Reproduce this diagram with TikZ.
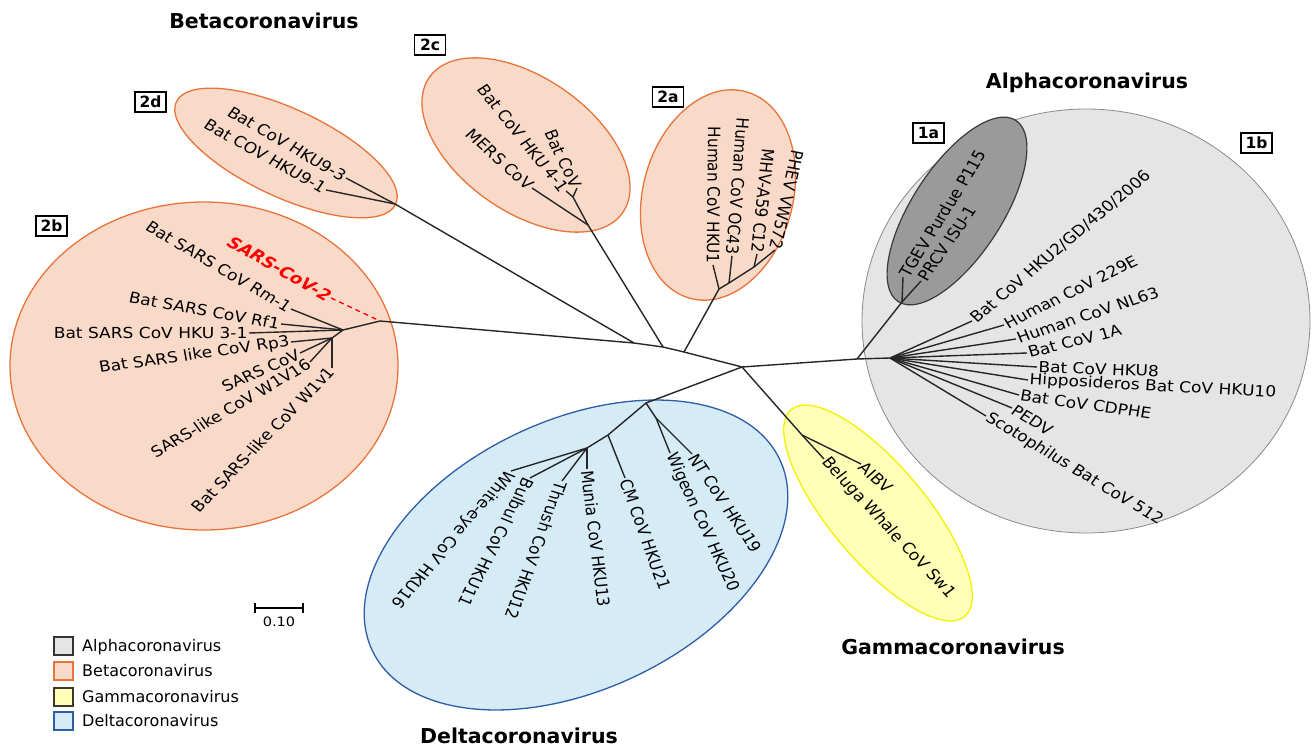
\documentclass[tikz,border=0pt]{standalone}
\usepackage{fontspec}
\setmainfont{DejaVu Sans}
\definecolor{betaF}{HTML}{F9D9C8}
\definecolor{betaD}{HTML}{E8743B}
\definecolor{alphaF}{HTML}{E5E5E5}
\definecolor{alphaD}{HTML}{8A8A8A}
\definecolor{oneaF}{HTML}{9A9A9A}
\definecolor{oneaD}{HTML}{3A3A3A}
\definecolor{gamF}{HTML}{FFFFB8}
\definecolor{gamD}{HTML}{F2F200}
\definecolor{delF}{HTML}{D5EBF6}
\definecolor{delD}{HTML}{2E5DA8}
\definecolor{covred}{HTML}{FF0000}
\begin{document}
\begin{tikzpicture}[x=1pt,y=-1pt,
  lab/.style={font=\fontsize{15.2}{17}\selectfont, inner sep=1.2pt, xscale=1.12},
  br/.style={line width=1.4pt, draw=black!85},
  tag/.style={draw=black, line width=1.4pt, fill=white, font=\bfseries\fontsize{15.5}{17}\selectfont, minimum width=31pt, minimum height=20pt, inner sep=0pt},
  ttl/.style={font=\bfseries\fontsize{20.5}{24}\selectfont, anchor=base, inner sep=0pt},
  legtext/.style={font=\fontsize{16}{18}\selectfont, anchor=base west, inner sep=0pt},
  legbox/.style={minimum width=19pt, minimum height=18pt, inner sep=0pt, line width=1.2pt},
  betacl/.style={fill=betaF, draw=betaD, line width=1.3pt},
]
\useasboundingbox (0,0) rectangle (1312,749);

% ---------- clade ellipses ----------
\path[fill=alphaF, draw=alphaD, line width=0.8pt] (1086,321) ellipse [x radius=224, y radius=212];
\path[fill=oneaF, draw=oneaD, line width=1.2pt, rotate around={57:(957,211)}] (957,211) ellipse [x radius=108, y radius=45];
\path[betacl, rotate around={-25:(286,153)}] (286,153) ellipse [x radius=121, y radius=44];
\path[betacl] (204,366) ellipse [x radius=194, y radius=164];
\path[betacl, rotate around={-35:(526,145)}] (526,145) ellipse [x radius=118, y radius=67];
\path[betacl, rotate around={75:(718,195)}] (718,195) ellipse [x radius=107, y radius=75];
\path[fill=gamF, draw=gamD, line width=1.3pt, rotate around={-50:(878,513)}] (878,513) ellipse [x radius=135, y radius=48];
\path[fill=delF, draw=delD, line width=1.3pt, rotate around={25:(576,555)}] (576,555) ellipse [x radius=225, y radius=135];

% ---------- internal nodes ----------
\coordinate (r2b) at (380,321);
\coordinate (b2b) at (343,330);
\coordinate (b2bs) at (332,338);
\coordinate (j1) at (634,343);
\coordinate (j2) at (663,347);
\coordinate (j3) at (684,352);
\coordinate (ctr) at (742,367);
\coordinate (n2d) at (395,204);
\coordinate (n2c) at (588,225);
\coordinate (n2cs) at (573,197);
\coordinate (n2a) at (719,289);
\coordinate (n2a1) at (729,283);
\coordinate (n2a2) at (754,267);
\coordinate (nA) at (857,359);
\coordinate (n1a) at (902,302);
\coordinate (n1b) at (890,358);
\coordinate (nG) at (802,435);
\coordinate (nD) at (646,403);
\coordinate (nDs1) at (656,418);
\coordinate (nDs2) at (608,435);
\coordinate (nDs3) at (587,448);

% ---------- leaf labels ----------
% 2d
\node[lab, rotate=-33, anchor=east] (l93) at (346,178) {Bat CoV HKU9-3};
\node[lab, rotate=-32, anchor=east] (l91) at (326,190) {Bat COV HKU9-1};
% 2b
\node[lab, rotate=-32.5, anchor=east, text=covred, font=\bfseries\itshape\fontsize{16}{18}\selectfont] (lsc2) at (331,298) {SARS-CoV-2};
\node[lab, rotate=-33.3, anchor=east] (lrm) at (291,309) {Bat SARS CoV Rm-1};
\node[lab, rotate=-11.2, anchor=east] (lrf) at (281,324) {Bat SARS CoV Rf1};
\node[lab, anchor=east] (l31) at (249,333) {Bat SARS CoV HKU 3-1};
\node[lab, rotate=8.9, anchor=east] (lrp) at (291,342) {Bat SARS like CoV Rp3};
\node[lab, rotate=26.5, anchor=east] (lsars) at (300,353) {SARS CoV};
\node[lab, rotate=33, anchor=east] (lw16) at (310,362) {SARS-like CoV W1V16};
\node[lab, rotate=49.2, anchor=east] (lw1) at (332,368) {Bat SARS-like CoV W1v1};
% 2c
\node[lab, rotate=-67.4, anchor=east] (lbc) at (577,188) {Bat CoV};
\node[lab, rotate=-54.1, anchor=east] (lh41) at (566,191) {Bat CoV HKU 4-1};
\node[lab, rotate=-45.2, anchor=east] (lmers) at (532,188) {MERS CoV};
% 2a
\node[lab, rotate=-90.5, anchor=east] (lhku1) at (713,265) {Human CoV HKU1};
\node[lab, rotate=-94.1, anchor=east] (loc43) at (732,256) {Human CoV OC43};
\node[lab, rotate=-95.5, anchor=east] (lmhv) at (757,254) {MHV-A59 C12};
\node[lab, rotate=-101.6, anchor=east] (lphev) at (775,250) {PHEV VW572};
% 1a
\node[lab, rotate=60.8, anchor=west] (ltgev) at (903,277) {TGEV Purdue P115};
\node[lab, rotate=58, anchor=west] (lprcv) at (921,281) {PRCV ISU-1};
% 1b
\node[lab, rotate=43.2, anchor=west] (lhku2) at (972,321) {Bat CoV HKU2/GD/430/2006};
\node[lab, rotate=29, anchor=west] (l229) at (1004,325) {Human CoV 229E};
\node[lab, rotate=20.5, anchor=west] (lnl63) at (1016,339) {Human CoV NL63};
\node[lab, rotate=15.6, anchor=west] (l1a) at (1027,353) {Bat CoV 1A};
\node[lab, rotate=-2.2, anchor=west] (lhku8) at (1037,367) {Bat CoV HKU8};
\node[lab, rotate=-3.4, anchor=west] (lhku10) at (1028,380) {Hipposideros Bat CoV HKU10};
\node[lab, rotate=-8.9, anchor=west] (lcdphe) at (1019,395) {Bat CoV CDPHE};
\node[lab, rotate=-34, anchor=west] (lpedv) at (1012,408) {PEDV};
\node[lab, rotate=-34, anchor=west] (lscoto) at (986,416) {Scotophilus Bat CoV 512};
% gamma
\node[lab, rotate=-45.2, anchor=west] (laibv) at (861,464) {AIBV};
\node[lab, rotate=-50.2, anchor=west] (lbel) at (824,459) {Beluga Whale CoV Sw1};
% delta
\node[lab, rotate=-59, anchor=west] (lnt) at (692,454) {NT CoV HKU19};
\node[lab, rotate=-67.4, anchor=west] (lwig) at (670,453) {Wigeon CoV HKU20};
\node[lab, rotate=-72, anchor=west] (lcm) at (625,478) {CM CoV HKU21};
\node[lab, rotate=-83.7, anchor=west] (lmun) at (587,469) {Munia CoV HKU13};
\node[lab, rotate=-108.5, anchor=west] (lthr) at (562,481) {Thrush CoV HKU12};
\node[lab, rotate=-115, anchor=west] (lbul) at (530,478) {Bulbul CoV HKU11};
\node[lab, rotate=-127.8, anchor=west] (lwe) at (511,471) {White-eye CoV HKU16};

% ---------- branches ----------
\draw[br] (r2b) -- (j1) -- (j2) -- (j3) -- (ctr);
\draw[br] (ctr) -- (nA);
\draw[br] (ctr) -- (nG);
\draw[br] (ctr) -- (nD);
% 2b
\draw[covred, line width=1.3pt, dash pattern=on 5pt off 4pt] (lsc2.east) -- (r2b);
\draw[br] (r2b) -- (b2b);
\draw[br] (b2b) -- (lrm.east);
\draw[br] (b2b) -- (lrf.east);
\draw[br] (b2b) -- (l31.east);
\draw[br] (b2b) -- (b2bs);
\draw[br] (b2bs) -- (lrp.east);
\draw[br] (b2bs) -- (lsars.east);
\draw[br] (b2bs) -- (lw16.east);
\draw[br] (b2bs) -- (lw1.east);
% 2d
\draw[br] (j1) -- (n2d);
\draw[br] (n2d) -- (l93.east);
\draw[br] (n2d) -- (l91.east);
% 2c
\draw[br] (j2) -- (n2c);
\draw[br] (n2c) -- (n2cs);
\draw[br] (n2cs) -- (lbc.east);
\draw[br] (n2cs) -- (lh41.east);
\draw[br] (n2c) -- (lmers.east);
% 2a
\draw[br] (j3) -- (n2a);
\draw[br] (n2a) -- (lhku1.east);
\draw[br] (n2a) -- (n2a1) -- (n2a2);
\draw[br] (n2a1) -- (loc43.east);
\draw[br] (n2a2) -- (lmhv.east);
\draw[br] (n2a2) -- (lphev.east);
% alpha
\draw[br] (nA) -- (n1a);
\draw[br] (n1a) -- (ltgev.west);
\draw[br] (n1a) -- (lprcv.west);
\draw[br] (nA) -- (n1b);
\foreach \l in {lhku2,l229,lnl63,l1a,lhku8,lhku10,lcdphe,lpedv,lscoto}
  \draw[br] (n1b) -- (\l.west);
% gamma
\draw[br] (nG) -- (laibv.west);
\draw[br] (nG) -- (lbel.west);
% delta
\draw[br] (nD) -- (nDs1);
\draw[br] (nDs1) -- (lnt.west);
\draw[br] (nDs1) -- (lwig.west);
\draw[br] (nD) -- (nDs2);
\draw[br] (nDs2) -- (lcm.west);
\draw[br] (nDs2) -- (nDs3);
\foreach \l in {lmun,lthr,lbul,lwe}
  \draw[br] (nDs3) -- (\l.west);

% ---------- clade tags ----------
\node[tag] (t2d) at (150.5,102) {2d};
\node[tag] (t2b) at (51.5,226) {2b};
\node[tag] (t2c) at (430,45) {2c};
\node[tag] (t2a) at (668,97) {2a};
\node[tag] (t1a) at (928.5,133) {1a};
\node[tag] (t1b) at (1256.5,143) {1b};

% ---------- titles ----------
\node[ttl] (tbeta) at (264,28.5) {Betacoronavirus};
\node[ttl] (talpha) at (1087,88.5) {Alphacoronavirus};
\node[ttl] (tgamma) at (953,654) {Gammacoronavirus};
\node[ttl] (tdelta) at (519,743) {Deltacoronavirus};

% ---------- scale bar ----------
\coordinate (sbL) at (255,608);
\coordinate (sbR) at (303,608);
\draw[line width=1.3pt] (sbL) -- (sbR);
\draw[line width=1.3pt] ([yshift=5pt]sbL) -- ([yshift=-5pt]sbL);
\draw[line width=1.3pt] ([yshift=5pt]sbR) -- ([yshift=-5pt]sbR);
\node[font=\fontsize{13}{15}\selectfont, xscale=1.12, inner sep=0pt] (sbt) at (279,622) {0.10};

% ---------- legend ----------
\node[legbox, fill=alphaF, draw=black!80] (kA) at (63.5,646) {};
\node[legbox, fill=betaF, draw=betaD] (kB) at (63.5,671) {};
\node[legbox, fill=gamF, draw=black!75!olive] (kG) at (63.5,697) {};
\node[legbox, fill=delF, draw=delD] (kD) at (63.5,721) {};
\node[legtext] (kAt) at (82,651.5) {Alphacoronavirus};
\node[legtext] (kBt) at (82,676.5) {Betacoronavirus};
\node[legtext] (kGt) at (82,702.5) {Gammacoronavirus};
\node[legtext] (kDt) at (82,726.5) {Deltacoronavirus};
\end{tikzpicture}
\end{document}
